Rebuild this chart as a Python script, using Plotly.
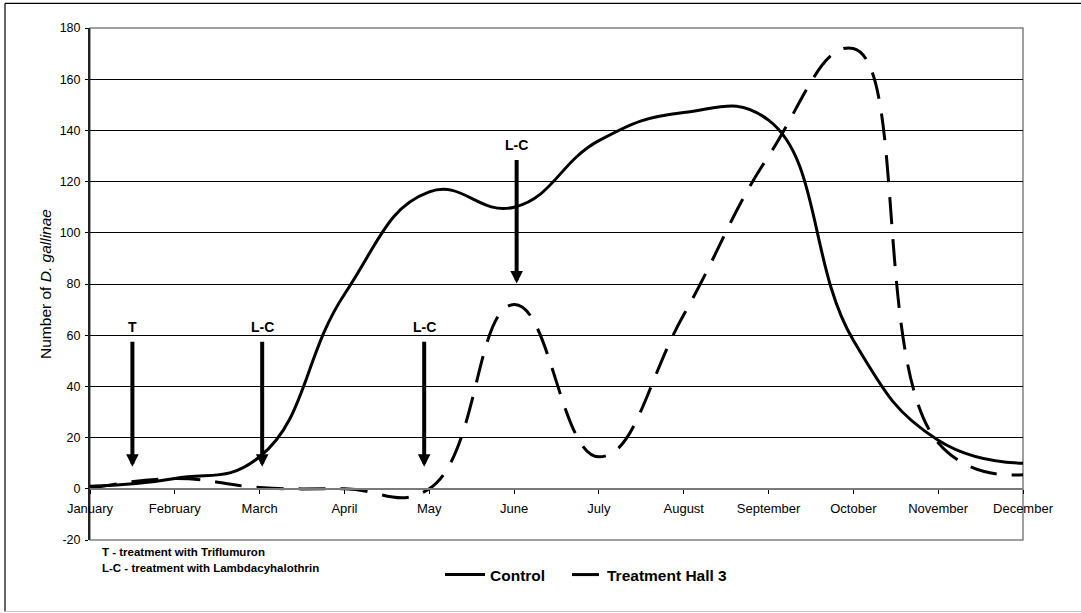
import plotly.graph_objects as go

months = ["January", "February", "March", "April", "May", "June", "July",
          "August", "September", "October", "November", "December"]
control = [1, 4, 12.5, 76, 116, 110, 136, 147, 144, 58, 19, 10]
treatment = [0, 4, 0.5, 0, 0, 72, 12.5, 68, 130, 172, 18, 5.5]

arrow_labels = ["T", "L-C", "L-C", "L-C"]
arrow_x = [0.5, 2.03, 3.94, 5.03]
arrow_tail = [58, 58, 58, 129]
arrow_tip = [8.6, 8.6, 8.6, 80.2]
label_y = [63.3, 63.3, 63.3, 134.2]

notes = ["T - treatment with Triflumuron", "L-C - treatment with Lambdacyhalothrin"]

y_ticks = list(range(-20, 181, 20))
y_ticktext = [str(v) for v in y_ticks]
x_pos = list(range(len(months)))

FONT = "Arial, Liberation Sans, sans-serif"
W, H = 1081, 613
L, R, T, B = 90, 58, 28, 73
pw, ph = W - L - R, H - T - B

def px_x(p):
    return (p - L) / pw

def px_y(p):
    return (H - B - p) / ph

SMOOTH = 1.3

fig = go.Figure()
fig.add_trace(go.Scatter(x=x_pos, y=control, mode="lines", name="Control", legend="legend",
                         line=dict(color="black", width=3, shape="spline", smoothing=SMOOTH)))
fig.add_trace(go.Scatter(x=x_pos, y=treatment, mode="lines", name="Treatment Hall 3",
                         legend="legend2",
                         line=dict(color="black", width=3, shape="spline", smoothing=SMOOTH,
                                   dash="27px,15px")))

annotations = []
for lab, ax_, tail, tip, ly in zip(arrow_labels, arrow_x, arrow_tail, arrow_tip, label_y):
    annotations.append(dict(x=ax_, y=tip, ax=ax_, ay=tail, xref="x", yref="y",
                            axref="x", ayref="y", text="", showarrow=True,
                            arrowhead=2, arrowwidth=4, arrowsize=0.63, arrowcolor="black"))
    annotations.append(dict(x=ax_, y=ly, xref="x", yref="y", text=lab, showarrow=False,
                            font=dict(family=FONT, size=14, color="black", weight="bold"),
                            xanchor="center", yanchor="middle"))
for i, t in enumerate(notes):
    annotations.append(dict(x=px_x(100), y=px_y(552 + 16 * i), xref="paper", yref="paper",
                            text=t, showarrow=False, xanchor="left", yanchor="middle",
                            font=dict(family=FONT, size=11.5, color="black", weight="bold")))

shapes = [
    dict(type="rect", xref="paper", yref="paper", x0=0, x1=1, y0=0, y1=1,
         line=dict(color="#808080", width=1.5), layer="below"),
    dict(type="line", xref="paper", yref="paper", x0=px_x(5), x1=px_x(1085),
         y0=px_y(3.3), y1=px_y(3.3), line=dict(color="black", width=1.2)),
    dict(type="line", xref="paper", yref="paper", x0=px_x(5), x1=px_x(5),
         y0=px_y(3.3), y1=px_y(611.5), line=dict(color="black", width=1.2)),
    dict(type="line", xref="paper", yref="paper", x0=px_x(5), x1=px_x(1085),
         y0=px_y(611.5), y1=px_y(611.5), line=dict(color="#c8c8c8", width=1.2)),
]

legend_font = dict(family=FONT, size=15.5, color="black", weight="bold")

fig.update_layout(
    width=W, height=H,
    margin=dict(l=L, r=R, t=T, b=B),
    paper_bgcolor="white", plot_bgcolor="white",
    font=dict(family=FONT, color="black"),
    showlegend=True,
    legend=dict(orientation="h", x=px_x(440), y=px_y(575), xanchor="left", yanchor="middle",
                font=legend_font, bgcolor="rgba(0,0,0,0)", itemwidth=40),
    legend2=dict(orientation="h", x=px_x(567), y=px_y(575), xanchor="left", yanchor="middle",
                 font=legend_font, bgcolor="rgba(0,0,0,0)", itemwidth=30),
    xaxis=dict(range=[0, 11], tickvals=x_pos, ticktext=months, anchor="free", position=0.1,
               showgrid=False, zeroline=False, showline=True, linecolor="#7a7a7a", linewidth=2,
               ticks="outside", ticklen=4.5, tickwidth=1, tickcolor="black",
               ticklabelstandoff=3,
               tickfont=dict(family=FONT, size=13, color="black")),
    xaxis2=dict(range=[0, 11], tickvals=x_pos, overlaying="x", anchor="free", position=0.1,
                showgrid=False, zeroline=False, showline=False, showticklabels=False,
                ticks="inside", ticklen=4.5, tickwidth=1, tickcolor="black"),
    yaxis=dict(range=[-20, 180], tickvals=y_ticks, ticktext=y_ticktext,
               showgrid=True, gridcolor="black", gridwidth=1,
               zeroline=False, showline=True, linecolor="#222222", linewidth=2,
               ticks="outside", ticklen=3, tickcolor="black", ticklabelstandoff=2,
               tickfont=dict(family=FONT, size=12.5, color="black"),
               title=dict(text="Number of <i>D. gallinae</i>", standoff=4,
                          font=dict(family=FONT, size=15.5, color="black"))),
    annotations=annotations,
    shapes=shapes,
)

fig.write_html("out.html", config={"displayModeBar": False},
               post_script="document.body.style.margin='0';document.body.style.overflow='hidden';")
